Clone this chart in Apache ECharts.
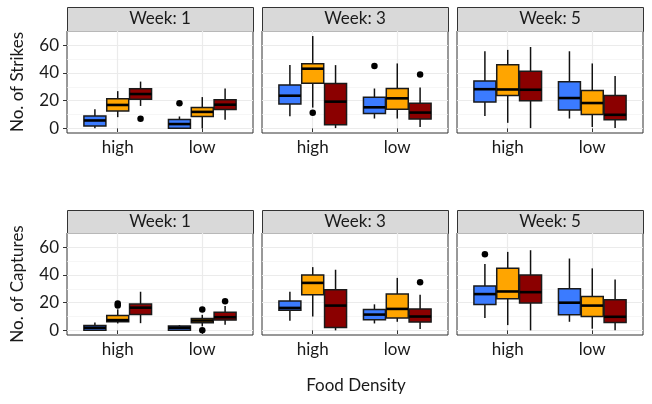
<!DOCTYPE html>
<html lang="en">
<head>
    <meta charset="UTF-8">
    <title>Strikes and captures by food density</title>
    <script src="https://cdn.jsdelivr.net/npm/echarts@6/dist/echarts.min.js"></script>
    <style>
        html, body { margin: 0; height: 100%; background: #fff; }
        #main { width: 652px; height: 404px; }
    </style>
</head>
<body>
<div id="main"></div>
<script>
// categories
var densities = ['high', 'low'];
var weeks = ['Week: 1', 'Week: 3', 'Week: 5'];
var groupColors = ['#3b7bff', '#ffa500', '#8b0000'];

// box stats: [lower whisker, Q1, median, Q3, upper whisker]
// order: high (blue, orange, red), then low (blue, orange, red)
var strikesW1 = [
    [0, 1.7, 5.7, 9, 13.8], [8.1, 12.6, 16.9, 21.4, 26.9], [16.2, 21, 24.8, 28.6, 33.8],
    [0, 0, 3.1, 6.4, 8.6], [0, 8.6, 11.9, 15, 22.6], [6.2, 13.6, 17.1, 20.7, 28.8]
];
var strikesW3 = [
    [8.8, 17.6, 23.6, 31.4, 45.7], [15, 32.6, 43.1, 46.7, 66.7], [0.2, 2.6, 19.3, 32.4, 45.7],
    [7.1, 10.7, 15.2, 22.4, 28.8], [7.1, 13.8, 21.7, 28.8, 46.9], [1, 6.7, 11.4, 18.1, 29.5]
];
var strikesW5 = [
    [9, 19, 28.3, 34.3, 55.7], [4, 23.8, 28.1, 46, 56.7], [0.2, 20, 27.9, 41.2, 58.8],
    [7.1, 13.3, 21.9, 33.6, 55.7], [1, 10, 18.3, 27.4, 46.9], [0.2, 6.2, 9.8, 23.8, 37.9]
];
var capturesW1 = [
    [0, 0, 1.9, 3.6, 5.7], [5, 6.2, 7.4, 10.7, 15.2], [5.2, 11.4, 16.4, 19, 27.9],
    [0, 0, 1.9, 3.1, 3.8], [2.9, 5.5, 7.1, 8.6, 11.2], [4, 7.4, 9.5, 13.1, 17.6]
];
var capturesW3 = [
    [6.9, 14.5, 16.2, 21.2, 27.9], [10, 25.7, 34.3, 40, 45.7], [0, 2.1, 17.9, 29.3, 43.8],
    [5, 7.6, 11.4, 15, 18.8], [6.2, 9, 15.5, 26.2, 37.9], [1, 6, 10, 15.5, 25.7]
];
var capturesW5 = [
    [9, 18.6, 26.2, 32.1, 47.9], [3.8, 22.9, 28.1, 44.8, 56.7], [0, 19.8, 27.6, 40, 57.9],
    [6.2, 11.2, 20, 30, 51.9], [1.2, 10, 17.9, 24.5, 44.8], [0, 5.7, 9.8, 22.1, 36.7]
];

// outliers: [density index, group index, value]
var strikesOut1 = [[0, 2, 6.9], [1, 0, 18.1]];
var strikesOut3 = [[0, 1, 11.2], [1, 0, 45], [1, 2, 39]];
var strikesOut5 = [];
var capturesOut1 = [[0, 1, 18], [0, 1, 19.5], [1, 1, 15], [1, 1, 0], [1, 2, 21]];
var capturesOut3 = [[1, 2, 34.8]];
var capturesOut5 = [[0, 0, 55]];

var yTicks = [0, 20, 40, 60];
var yMinor = [10, 30, 50, 70];
var rowTitles = ['No. of Strikes', 'No. of Captures'];

var rows = [
    { boxes: [strikesW1, strikesW3, strikesW5], outs: [strikesOut1, strikesOut3, strikesOut5] },
    { boxes: [capturesW1, capturesW3, capturesW5], outs: [capturesOut1, capturesOut3, capturesOut5] }
];

// layout
var colLeft = [67, 262, 457];
var panelW = 186;
var stripTop = [7, 210];
var panelTop = [31, 233];
var panelH = 102;
var dodge = [-0.27, 0, 0.27];
var boxW = 0.26;
var FONT = 'Lato, "Open Sans", sans-serif';

var chart = echarts.init(document.getElementById('main'));

var grids = [], xAxes = [], yAxes = [], series = [], graphics = [];

function renderBox(params, api) {
    var x = api.value(0);
    var g = api.value(6);
    var lo = api.coord([x, api.value(1)]);
    var q1 = api.coord([x, api.value(2)]);
    var md = api.coord([x, api.value(3)]);
    var q3 = api.coord([x, api.value(4)]);
    var hi = api.coord([x, api.value(5)]);
    var left = api.coord([x - boxW / 2, 0])[0];
    var right = api.coord([x + boxW / 2, 0])[0];
    return {
        type: 'group',
        children: [
            { type: 'line', shape: { x1: lo[0], y1: lo[1], x2: q1[0], y2: q1[1] }, style: { stroke: '#111', lineWidth: 1.5 } },
            { type: 'line', shape: { x1: q3[0], y1: q3[1], x2: hi[0], y2: hi[1] }, style: { stroke: '#111', lineWidth: 1.5 } },
            { type: 'rect', shape: { x: left, y: q3[1], width: right - left, height: q1[1] - q3[1] },
              style: { fill: groupColors[g], stroke: '#1a1a1a', lineWidth: 1.5 } },
            { type: 'line', shape: { x1: left, y1: md[1], x2: right, y2: md[1] }, style: { stroke: '#000', lineWidth: 2.6 } }
        ]
    };
}

rows.forEach(function (row, r) {
    weeks.forEach(function (wk, c) {
        var idx = r * 3 + c;
        grids.push({
            left: colLeft[c], top: panelTop[r], width: panelW, height: panelH,
            show: true, borderColor: '#333', borderWidth: 1, backgroundColor: '#fff'
        });
        xAxes.push({
            type: 'value', gridIndex: idx, min: 0.4, max: 2.6,
            axisLine: { show: false },
            axisTick: { show: true, customValues: [1, 2], length: 4, lineStyle: { color: '#333' } },
            axisLabel: {
                customValues: [1, 2], margin: 6, color: '#1a1a1a', fontSize: 17, fontFamily: FONT,
                formatter: function (v) { return densities[Math.round(v) - 1]; }
            },
            splitLine: { show: true, lineStyle: { color: '#ebebeb', width: 1.2 } }
        });
        yAxes.push({
            type: 'value', gridIndex: idx, min: -3.35, max: 70.35,
            axisLine: { show: false },
            axisTick: { show: c === 0, customValues: yTicks, length: 4, lineStyle: { color: '#333' } },
            axisLabel: { show: c === 0, customValues: yTicks, margin: 8, color: '#1a1a1a', fontSize: 17, fontFamily: FONT },
            splitLine: { show: true, lineStyle: { color: '#ebebeb', width: 1.2 } },
            name: c === 0 ? rowTitles[r] : '',
            nameLocation: 'middle', nameGap: 41,
            nameTextStyle: { fontSize: 17, color: '#1a1a1a', fontFamily: FONT }
        });
        // minor grid lines
        yAxes.push({
            type: 'value', gridIndex: idx, min: -3.35, max: 70.35, position: 'right',
            axisLine: { show: false }, axisLabel: { show: false },
            axisTick: { show: false, customValues: yMinor },
            splitLine: { show: true, lineStyle: { color: '#f2f2f2', width: 0.7 } }
        });

        var boxData = row.boxes[c].map(function (s, k) {
            var d = Math.floor(k / 3), g = k % 3;
            return [d + 1 + dodge[g], s[0], s[1], s[2], s[3], s[4], g];
        });
        series.push({
            type: 'custom', xAxisIndex: idx, yAxisIndex: idx * 2, z: 3,
            renderItem: renderBox, data: boxData, silent: true,
            encode: { x: 0, y: [1, 2, 3, 4, 5] }
        });
        series.push({
            type: 'scatter', xAxisIndex: idx, yAxisIndex: idx * 2, z: 4, silent: true,
            symbolSize: 6.5, itemStyle: { color: '#000', opacity: 1 },
            data: row.outs[c].map(function (o) { return [o[0] + 1 + dodge[o[1]], o[2]]; })
        });

        // strip
        graphics.push({
            type: 'rect', left: colLeft[c], top: stripTop[r],
            shape: { width: panelW, height: panelTop[r] - stripTop[r] },
            style: { fill: '#d9d9d9', stroke: '#333', lineWidth: 1 }
        });
        graphics.push({
            type: 'text', x: colLeft[c] + panelW / 2, y: stripTop[r] + (panelTop[r] - stripTop[r]) / 2,
            style: { text: wk, fontSize: 17, fontFamily: FONT, fill: '#1a1a1a', align: 'center', verticalAlign: 'middle' }
        });
    });
});

graphics.push({
    type: 'text', x: 356, y: 386,
    style: { text: 'Food Density', fontSize: 17, fontFamily: FONT, fill: '#1a1a1a', align: 'center', verticalAlign: 'middle' }
});

chart.setOption({
    animation: false,
    grid: grids,
    xAxis: xAxes,
    yAxis: yAxes,
    series: series,
    graphic: graphics
});
</script>
</body>
</html>
